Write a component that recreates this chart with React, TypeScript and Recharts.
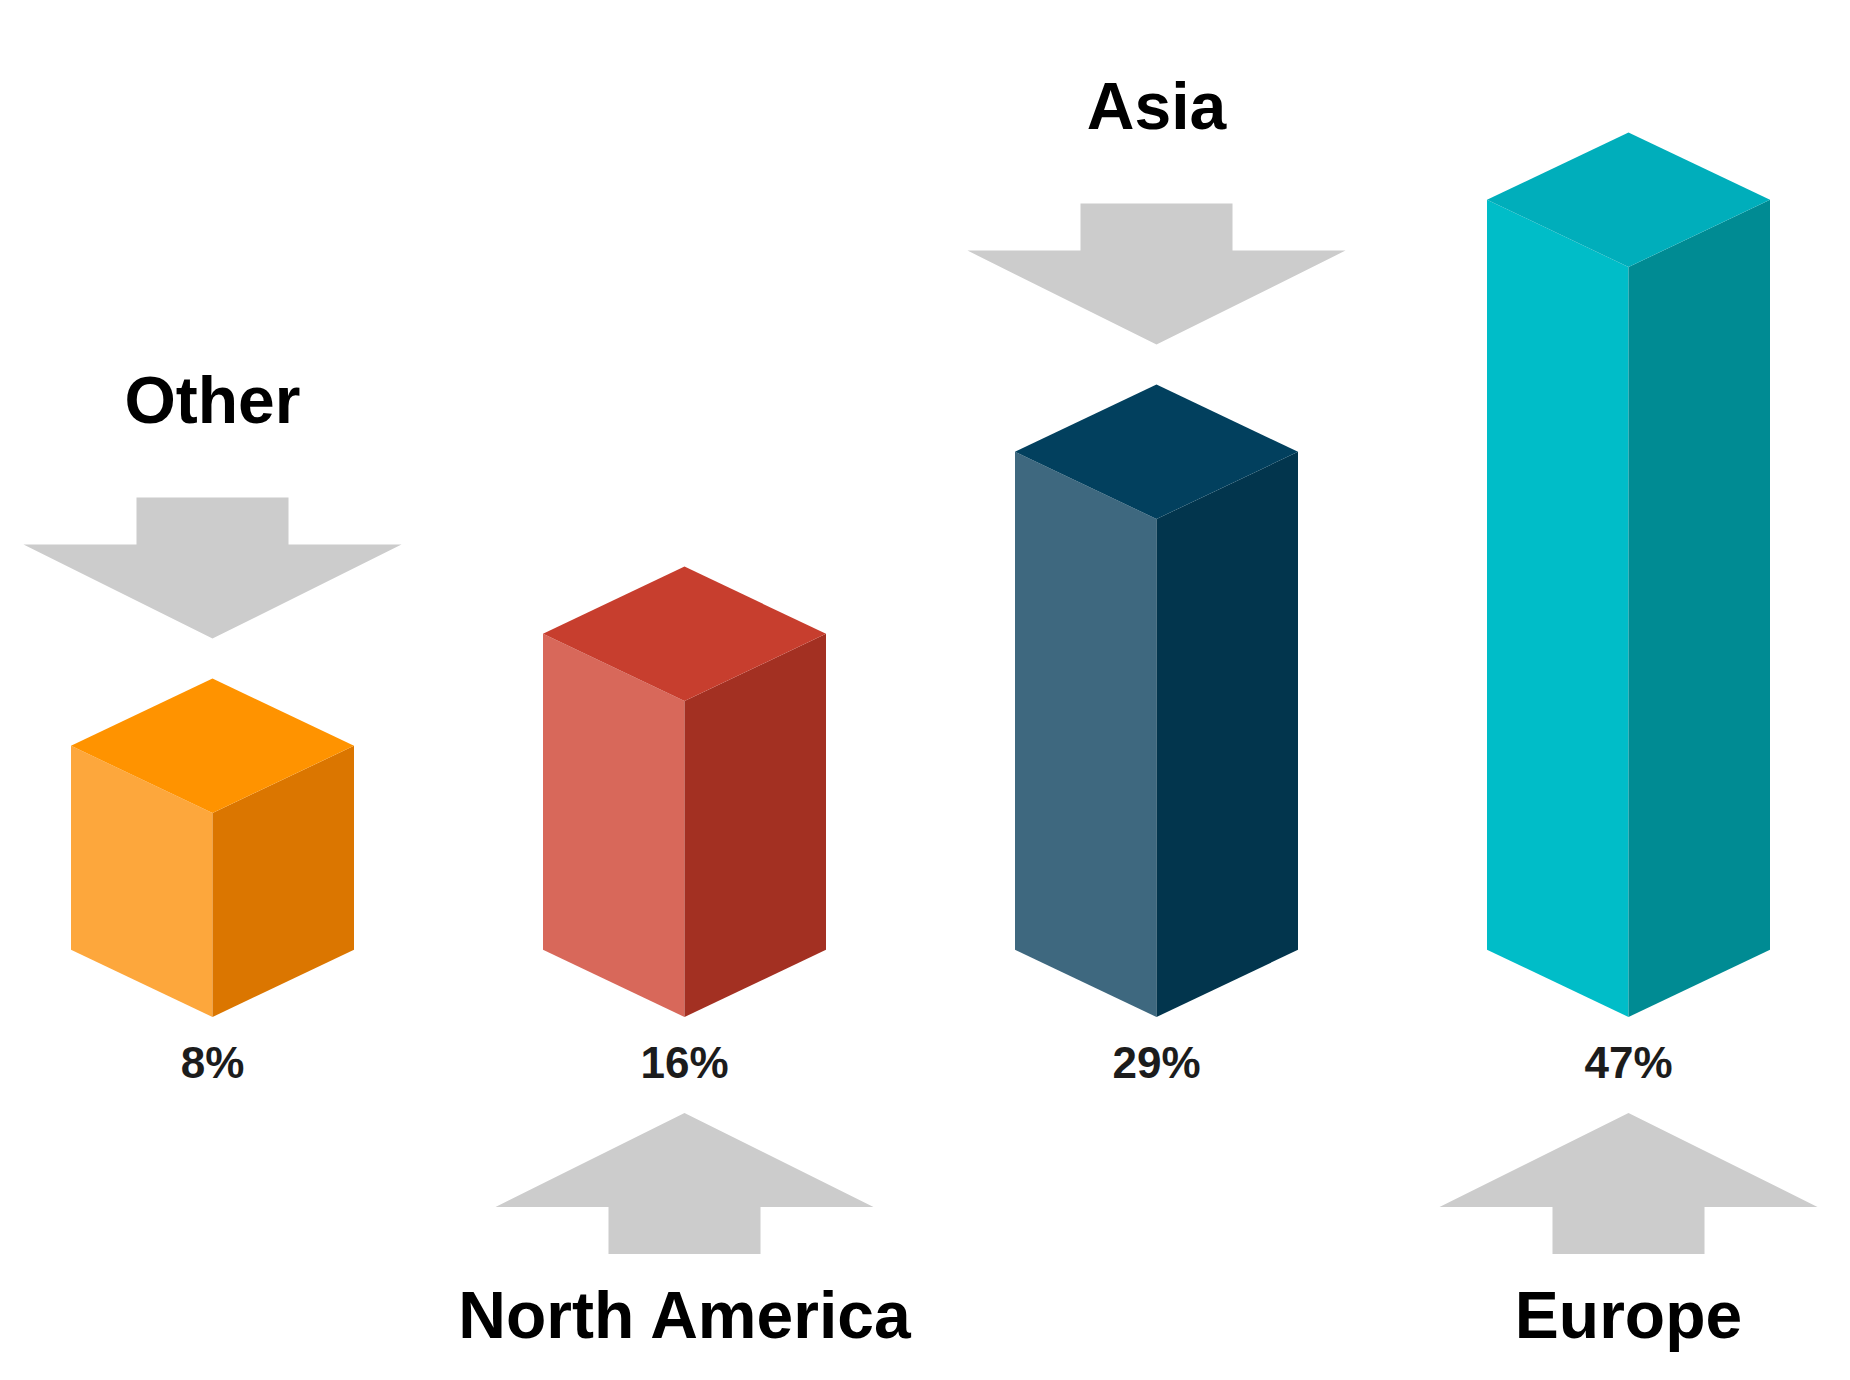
import React from "react";
import { BarChart, Bar, XAxis, YAxis } from "recharts";

const regions = ["Other", "North America", "Asia", "Europe"];
const shares = [8, 16, 29, 47];

const data = regions.map((region, i) => ({ region, share: shares[i] }));

// three shades per block: top, lit left face, shaded right face
const topFaces = ["#ff9300", "#c73e2e", "#02405e", "#00aebb"];
const leftFaces = ["#fda73c", "#d8685a", "#3e687f", "#00bdc8"];
const rightFaces = ["#db7600", "#a33022", "#02354d", "#008b93"];

const FONT = '"Liberation Sans", Arial, Helvetica, sans-serif';
const ARROW = "#cccccc";
const PLINTH = 92; // front edge runs this far below the value baseline
const DEPTH = 0.475; // iso depth relative to half width

function arrowPath(cx: number, tip: number, dir: number) {
  // dir 1 = pointing down, -1 = pointing up
  const headH = 94;
  const headW = 189;
  const shaftW = 76;
  const shaftH = 47;
  const base = tip - dir * headH;
  const end = base - dir * shaftH;
  return `M${cx},${tip} L${cx + headW},${base} L${cx + shaftW},${base} L${cx + shaftW},${end} L${cx - shaftW},${end} L${cx - shaftW},${base} L${cx - headW},${base} Z`;
}

function IsoBlock(props: any) {
  const { x, y, width, height, payload } = props;
  const i = regions.indexOf(payload.region);
  const hw = width / 2;
  const cx = x + hw;
  const d = hw * DEPTH;
  const fy = y;
  const by = y + height + PLINTH;

  const left = `${cx - hw},${fy - d} ${cx},${fy} ${cx},${by} ${cx - hw},${by - d}`;
  const right = `${cx},${fy} ${cx + hw},${fy - d} ${cx + hw},${by - d} ${cx},${by}`;
  const top = `${cx},${fy - 2 * d} ${cx + hw},${fy - d} ${cx},${fy} ${cx - hw},${fy - d}`;

  const above = i % 2 === 0;
  let tip: number;
  let labelY: number;
  if (above) {
    tip = fy - 2 * d - 40;
    labelY = tip - 94 - 47 - 75;
  } else {
    tip = by + 96;
    labelY = tip + 94 + 47 + 84;
  }

  return (
    <g>
      <polygon points={left} fill={leftFaces[i]} />
      <polygon points={right} fill={rightFaces[i]} />
      <polygon points={top} fill={topFaces[i]} />
      <text
        x={cx}
        y={by + 61}
        textAnchor="middle"
        fontFamily={FONT}
        fontWeight={700}
        fontSize={44}
        fill="#1c1c1c"
      >
        {payload.share}%
      </text>
      <path d={arrowPath(cx, tip, above ? 1 : -1)} fill={ARROW} />
      <text
        x={cx}
        y={labelY}
        textAnchor="middle"
        fontFamily={FONT}
        fontWeight={700}
        fontSize={66}
        fill="#000"
      >
        {payload.region}
      </text>
    </g>
  );
}

export default function App() {
  return (
    <div
      style={{
        position: "absolute",
        left: 0,
        top: 0,
        width: 1850,
        height: 1380,
        background: "#fff",
      }}
    >
      <BarChart
        width={1850}
        height={1380}
        data={data}
        margin={{ top: 225, right: -14, bottom: 455, left: -24 }}
      >
        <XAxis dataKey="region" hide />
        <YAxis domain={[0, 50]} hide />
        <Bar
          dataKey="share"
          barSize={283}
          isAnimationActive={false}
          shape={(p: any) => <IsoBlock {...p} />}
        />
      </BarChart>
    </div>
  );
}
